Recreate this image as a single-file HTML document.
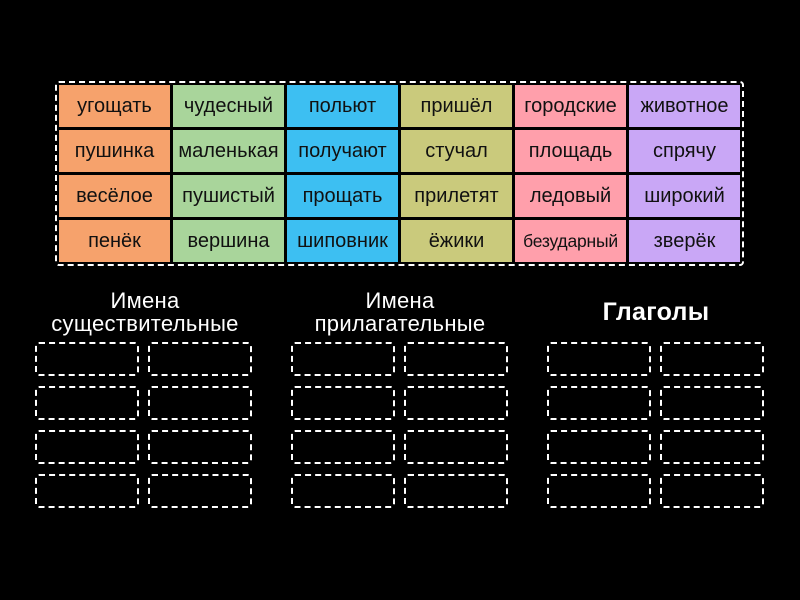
<!DOCTYPE html>
<html><head><meta charset="utf-8"><style>
body{margin:0;width:800px;height:600px;background:#000;position:relative;overflow:hidden;font-family:"Liberation Sans","DejaVu Sans",sans-serif}
.outer{position:absolute;left:55px;top:81px;width:689px;height:185px;border:2px dashed #fff;border-radius:4px;box-sizing:border-box}
.c{position:absolute;width:111px;height:42px;display:flex;align-items:center;justify-content:center;font-size:20px;color:#111;white-space:nowrap}
.d{position:absolute;width:104px;height:34px;border:2px dashed #fff;border-radius:4px;box-sizing:border-box}
.h{position:absolute;color:#fff;text-align:center;font-size:22px;line-height:23px;width:260px;letter-spacing:0.3px}
</style></head><body>
<div class="outer"></div>
<div id="g"></div>
<div class="h" style="left:15px;top:289px">Имена<br>существительные</div>
<div class="h" style="left:270px;top:289px">Имена<br>прилагательные</div>
<div class="h" style="left:526px;top:301px;font-size:25px;font-weight:bold">Глаголы</div>
<script>
var cols=['#f6a26c','#a9d59b','#3dbff2','#caca7c','#ff9fab','#c9a7f6'];
var w=[['угощать','пушинка','весёлое','пенёк'],['чудесный','маленькая','пушистый','вершина'],['польют','получают','прощать','шиповник'],['пришёл','стучал','прилетят','ёжики'],['городские','площадь','ледовый','безударный'],['животное','спрячу','широкий','зверёк']];
var h='';
for(var i=0;i<6;i++)for(var j=0;j<4;j++){h+='<div class="c" style="left:'+(59+114*i)+'px;top:'+(85+45*j)+'px;background:'+cols[i]+(w[i][j]=='безударный'?';font-size:17.5px;letter-spacing:-0.2px':'')+'">'+w[i][j]+'</div>';}
for(var g=0;g<3;g++)for(var k=0;k<2;k++)for(var r=0;r<4;r++){h+='<div class="d" style="left:'+(35+256*g+113*k)+'px;top:'+(342+44*r)+'px"></div>';}
document.getElementById('g').innerHTML=h;
</script>
</body></html>
